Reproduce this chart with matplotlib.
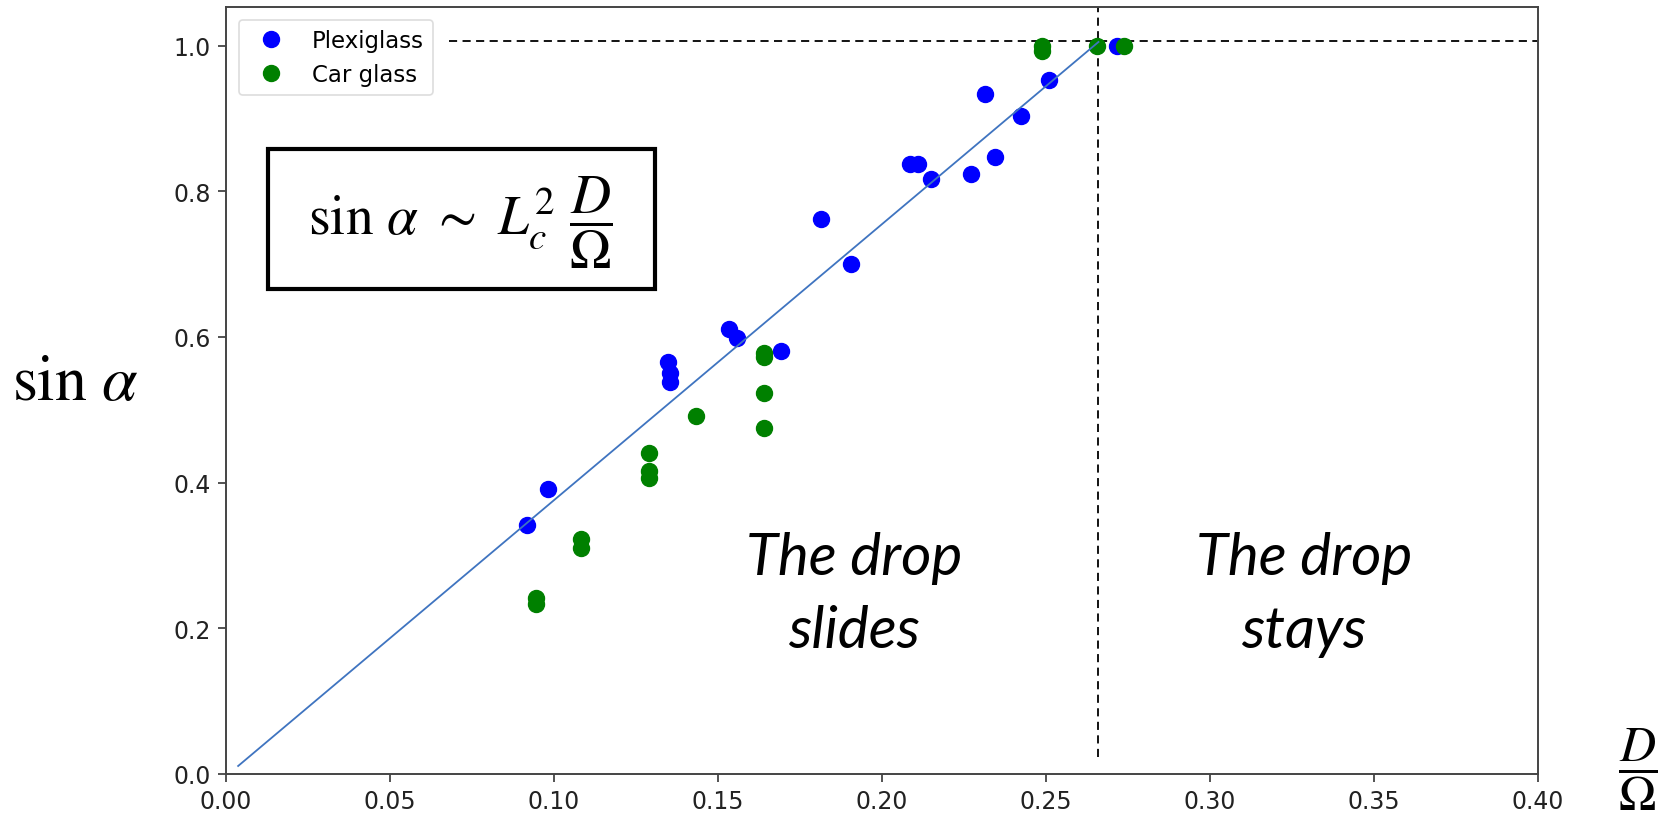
import numpy as np
import matplotlib.pyplot as plt
from matplotlib.patches import Rectangle

plt.rcParams['mathtext.fontset'] = 'stix'

# Data
plexi_x = [0.0917, 0.0983, 0.1349, 0.1354, 0.1354, 0.1534, 0.1557, 0.1691,
           0.1813, 0.1906, 0.2085, 0.2111, 0.2149, 0.2272, 0.2315, 0.2345,
           0.2423, 0.2509, 0.2715]
plexi_y = [0.342, 0.391, 0.566, 0.551, 0.538, 0.611, 0.598, 0.581,
           0.762, 0.700, 0.837, 0.837, 0.817, 0.824, 0.933, 0.847,
           0.904, 0.953, 1.000]

car_x = [0.0945, 0.0945, 0.1081, 0.1081, 0.1290, 0.1290, 0.1290, 0.1433,
         0.1640, 0.1640, 0.1640, 0.1640, 0.2487, 0.2487, 0.2654, 0.2738]
car_y = [0.242, 0.234, 0.322, 0.310, 0.441, 0.416, 0.407, 0.491,
         0.578, 0.572, 0.523, 0.475, 1.000, 0.993, 1.000, 1.000]

fit_x = [0.0037, 0.266]
fit_y = [0.011, 1.005]

crit_x = 0.266       # vertical boundary
crit_y = 1.006       # horizontal boundary

x_ticks = [0.00, 0.05, 0.10, 0.15, 0.20, 0.25, 0.30, 0.35, 0.40]
y_ticks = [0.0, 0.2, 0.4, 0.6, 0.8, 1.0]

W, H = 1664, 828


def px(x, y):
    # pixel position (from top-left) -> figure fraction
    return x / W, 1 - y / H


fig = plt.figure(figsize=(W / 100, H / 100), dpi=100)
ax = fig.add_axes([226 / W, (H - 775) / H, 1312 / W, 767 / H])

ax.plot(plexi_x, plexi_y, 'o', color='#0000ff', markersize=11.5, label='Plexiglass', zorder=3)
ax.plot(car_x, car_y, 'o', color='#008000', markersize=11.5, label='Car glass', zorder=3)
ax.plot(fit_x, fit_y, '-', color='#3f74c0', lw=1.3, zorder=4)

ax.plot([crit_x, crit_x], [0.023, 1.06], color='black', lw=1.3, dashes=(4.5, 3), zorder=2)
ax.plot([0.068, 0.40], [crit_y, crit_y], color='black', lw=1.3, dashes=(4.5, 3), zorder=2)

ax.set_xlim(0, 0.40)
ax.set_ylim(0, 1.053)
ax.set_xticks(x_ticks)
ax.set_xticklabels(['%.2f' % v for v in x_ticks])
ax.set_yticks(y_ticks)
ax.set_yticklabels(['%.1f' % v for v in y_ticks])
ax.tick_params(labelsize=17, length=6, width=1.3, color='#444444', labelcolor='#222222', pad=5)
for s in ax.spines.values():
    s.set_color('#444444')
    s.set_linewidth(1.4)

leg = ax.legend(loc='upper left', fontsize=16.5, numpoints=1, framealpha=1,
                edgecolor='#dddddd', borderaxespad=0.55)
leg.get_frame().set_linewidth(1.2)

# formula box
x0, y0 = px(268, 290)
x1, y1 = px(655, 150)
fig.add_artist(Rectangle((x0, y0), x1 - x0, y1 - y0, transform=fig.transFigure,
                         facecolor='white', edgecolor='black', lw=3, zorder=5))
fig.text(*px(460, 222), r'$\sin\,\alpha\ \sim\ L_c^2\ \dfrac{D}{\Omega}$', fontsize=40,
         ha='center', va='center', zorder=6)

# axis labels
fig.text(*px(75, 382), r'$\sin\,\alpha$', fontsize=46, ha='center', va='center')
fig.text(*px(1638, 770), r'$\dfrac{D}{\Omega}$', fontsize=36, ha='center', va='center')

# region annotations
for cx, words in [(854, ['The drop', 'slides']), (1304, ['The drop', 'stays'])]:
    fig.text(*px(cx, 575), words[0], family='Lato', style='italic', fontsize=42,
             ha='center', va='baseline')
    fig.text(*px(cx, 648), words[1], family='Lato', style='italic', fontsize=42,
             ha='center', va='baseline')

fig.savefig('out.png', dpi=100)
